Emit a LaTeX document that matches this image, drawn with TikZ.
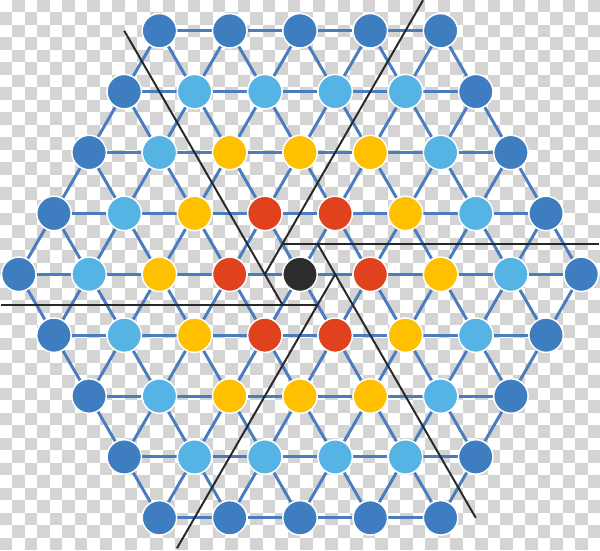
\documentclass[tikz,border=0pt]{standalone}
\usetikzlibrary{calc}
\definecolor{ring0}{RGB}{45,45,45}
\definecolor{ring1}{RGB}{224,66,30}
\definecolor{ring2}{RGB}{255,192,0}
\definecolor{ring3}{RGB}{86,180,229}
\definecolor{ring4}{RGB}{61,125,192}
\definecolor{edgeblue}{RGB}{74,125,190}
\definecolor{rayblack}{RGB}{40,40,40}
\definecolor{checkgray}{RGB}{212,212,212}
\pgfdeclarelayer{bg}
\pgfdeclarelayer{edges}
\pgfdeclarelayer{rays}
\pgfsetlayers{bg,edges,rays,main}
\begin{document}
\begin{tikzpicture}[x=1cm,y=1cm,
  site/.style={circle, minimum size=0.49cm, inner sep=0pt, draw=white, line width=0.6pt},
  bond/.style={draw=edgeblue, line width=1.2pt},
  ray/.style={draw=rayblack, line width=0.8pt}]
\useasboundingbox (-4.2674,-3.9218) rectangle (4.2674,3.9018);
% transparency checkerboard
\begin{pgfonlayer}{bg}
\fill[white] (-4.2674,-3.9218) rectangle (4.2674,3.9018);
\foreach \i in {0,...,47}{
  \foreach \j in {0,...,43}{
    \pgfmathtruncatemacro\chk{mod(\i+\j,2)}
    \ifnum\chk=1
      \fill[checkgray] ({-4.2674+\i*0.17781},{3.9018-\j*0.17781}) rectangle ++(0.17781,-0.17781);
    \fi
  }
}
\end{pgfonlayer}
% sites
\foreach \q in {-4,...,4}{
  \foreach \r in {-4,...,4}{
    \pgfmathtruncatemacro\okS{(abs((\q)+(\r))<=4)?1:0}
    \ifnum\okS=1
      \pgfmathtruncatemacro\ring{max(abs(\q),abs(\r),abs((\q)+(\r)))}
      \pgfmathtruncatemacro\qq{(\q)+4}
      \pgfmathtruncatemacro\rr{(\r)+4}
      \node[site, fill=ring\ring] (n\qq\rr) at ({(\q)+0.5*(\r)},{0.8660254*(\r)}) {};
    \fi
  }
}
% bonds
\begin{pgfonlayer}{edges}
\foreach \q in {-4,...,4}{
  \foreach \r in {-4,...,4}{
    \pgfmathtruncatemacro\okS{(abs((\q)+(\r))<=4)?1:0}
    \ifnum\okS=1
      \pgfmathtruncatemacro\qq{(\q)+4}
      \pgfmathtruncatemacro\rr{(\r)+4}
      \pgfmathtruncatemacro\okA{((\q)<4 && abs((\q)+1+(\r))<=4)?1:0}
      \ifnum\okA=1
        \pgfmathtruncatemacro\nq{\qq+1}
        \draw[bond] (n\qq\rr) -- (n\nq\rr);
      \fi
      \pgfmathtruncatemacro\okB{((\r)<4 && abs((\q)+(\r)+1)<=4)?1:0}
      \ifnum\okB=1
        \pgfmathtruncatemacro\nr{\rr+1}
        \draw[bond] (n\qq\rr) -- (n\qq\nr);
      \fi
      \pgfmathtruncatemacro\okC{((\q)>-4 && (\r)<4)?1:0}
      \ifnum\okC=1
        \pgfmathtruncatemacro\nq{\qq-1}
        \pgfmathtruncatemacro\nr{\rr+1}
        \draw[bond] (n\qq\rr) -- (n\nq\nr);
      \fi
    \fi
  }
}
\end{pgfonlayer}
% pinwheel rays
\begin{pgfonlayer}{rays}
\foreach \k in {0,...,5}{
  \coordinate (s\k) at ({\k*60}:0.5);
  \coordinate (e\k) at ($(s\k)+({\k*60-120}:4.5)$);
  \draw[ray] (s\k) -- (e\k);
}
\end{pgfonlayer}
\end{tikzpicture}
\end{document}
